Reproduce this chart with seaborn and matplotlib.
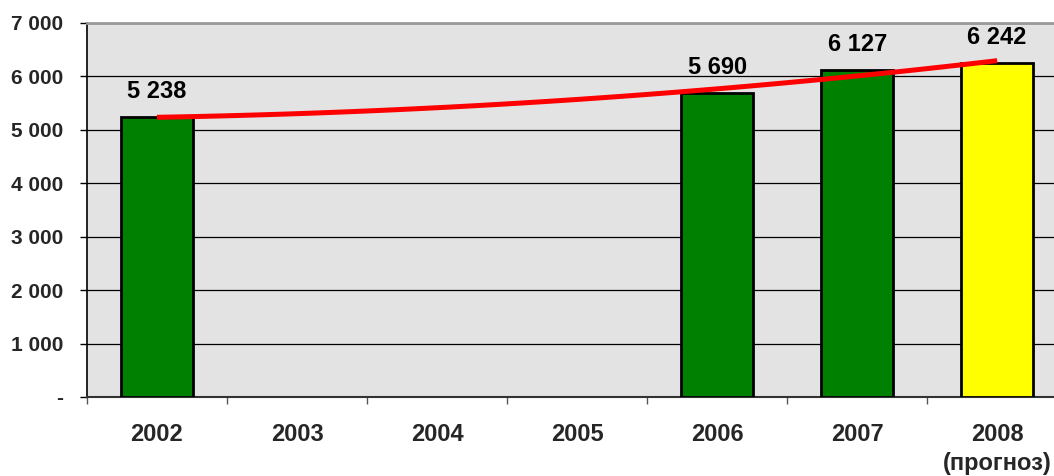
import matplotlib
matplotlib.use("Agg")
import matplotlib.pyplot as plt
import numpy as np
import pandas as pd
import seaborn as sns

# data
years = ["2002", "2003", "2004", "2005", "2006", "2007", "2008"]
tick_labels = ["2002", "2003", "2004", "2005", "2006", "2007", "2008\n(прогноз)"]
bar_years = ["2002", "2006", "2007", "2008"]
bar_values = [5238, 5690, 6127, 6242]
bar_colors = ["#008000", "#008000", "#008000", "#FFFF00"]

sns.set_theme(style="white")
plt.rcParams["font.family"] = ["Liberation Sans", "DejaVu Sans"]
plt.rcParams["font.weight"] = "bold"

fig = plt.figure(figsize=(10.54, 4.76), dpi=100)
ax = fig.add_axes([0.0825, 0.166, 0.93, 0.786])
ax.set_facecolor("#E3E3E3")

df = pd.DataFrame({"year": bar_years, "value": bar_values})
sns.barplot(data=df, x="year", y="value", order=years, hue="year",
            palette=dict(zip(bar_years, bar_colors)), legend=False,
            saturation=1, width=0.51, edgecolor="black", linewidth=2,
            ax=ax, zorder=3)

# value labels
pos = [years.index(y) for y in bar_years]
for x, v in zip(pos, bar_values):
    ax.annotate(f"{v:,}".replace(",", " "), (x, v), xytext=(0, 10),
                textcoords="offset points", ha="center", va="bottom",
                fontsize=17, fontweight="bold", color="black")

# polynomial (2nd order) trend line, like the spreadsheet one
coef = np.polyfit(pos, bar_values, 2)
xs = np.linspace(pos[0], pos[-1], 100)
ax.plot(xs, np.polyval(coef, xs), color="#FF0000", lw=3.6, zorder=4,
        solid_capstyle="butt")

ax.set_xlim(-0.5, len(years) - 0.5)
ax.set_ylim(0, 7000)
ax.set_yticks(range(0, 7001, 1000))
ax.set_yticklabels(["-"] + [f"{v:,}".replace(",", " ") for v in range(1000, 7001, 1000)])
ax.set_xticks(range(len(years)))
ax.set_xticklabels(tick_labels, linespacing=1.3)
ax.set_xticks(np.arange(-0.5, len(years), 1), minor=True)
ax.set_xlabel("")
ax.set_ylabel("")

ax.yaxis.grid(True, color="black", lw=0.9)
ax.set_axisbelow(True)
ax.tick_params(axis="y", length=5, width=1, color="black", pad=12,
               labelsize=15, left=True)
ax.tick_params(axis="x", which="major", length=0, pad=19, labelsize=17)
ax.tick_params(axis="x", which="minor", length=5, width=1, color="#555555",
               bottom=True)
for lab in ax.get_xticklabels() + ax.get_yticklabels():
    lab.set_fontweight("bold")

ax.spines["left"].set_color("black")
ax.spines["left"].set_linewidth(1.2)
ax.spines["bottom"].set_color("#333333")
ax.spines["bottom"].set_linewidth(1.5)
ax.spines["top"].set_color("#999999")
ax.spines["top"].set_linewidth(2)
ax.spines["right"].set_visible(False)

fig.savefig("out.png", dpi=100)
